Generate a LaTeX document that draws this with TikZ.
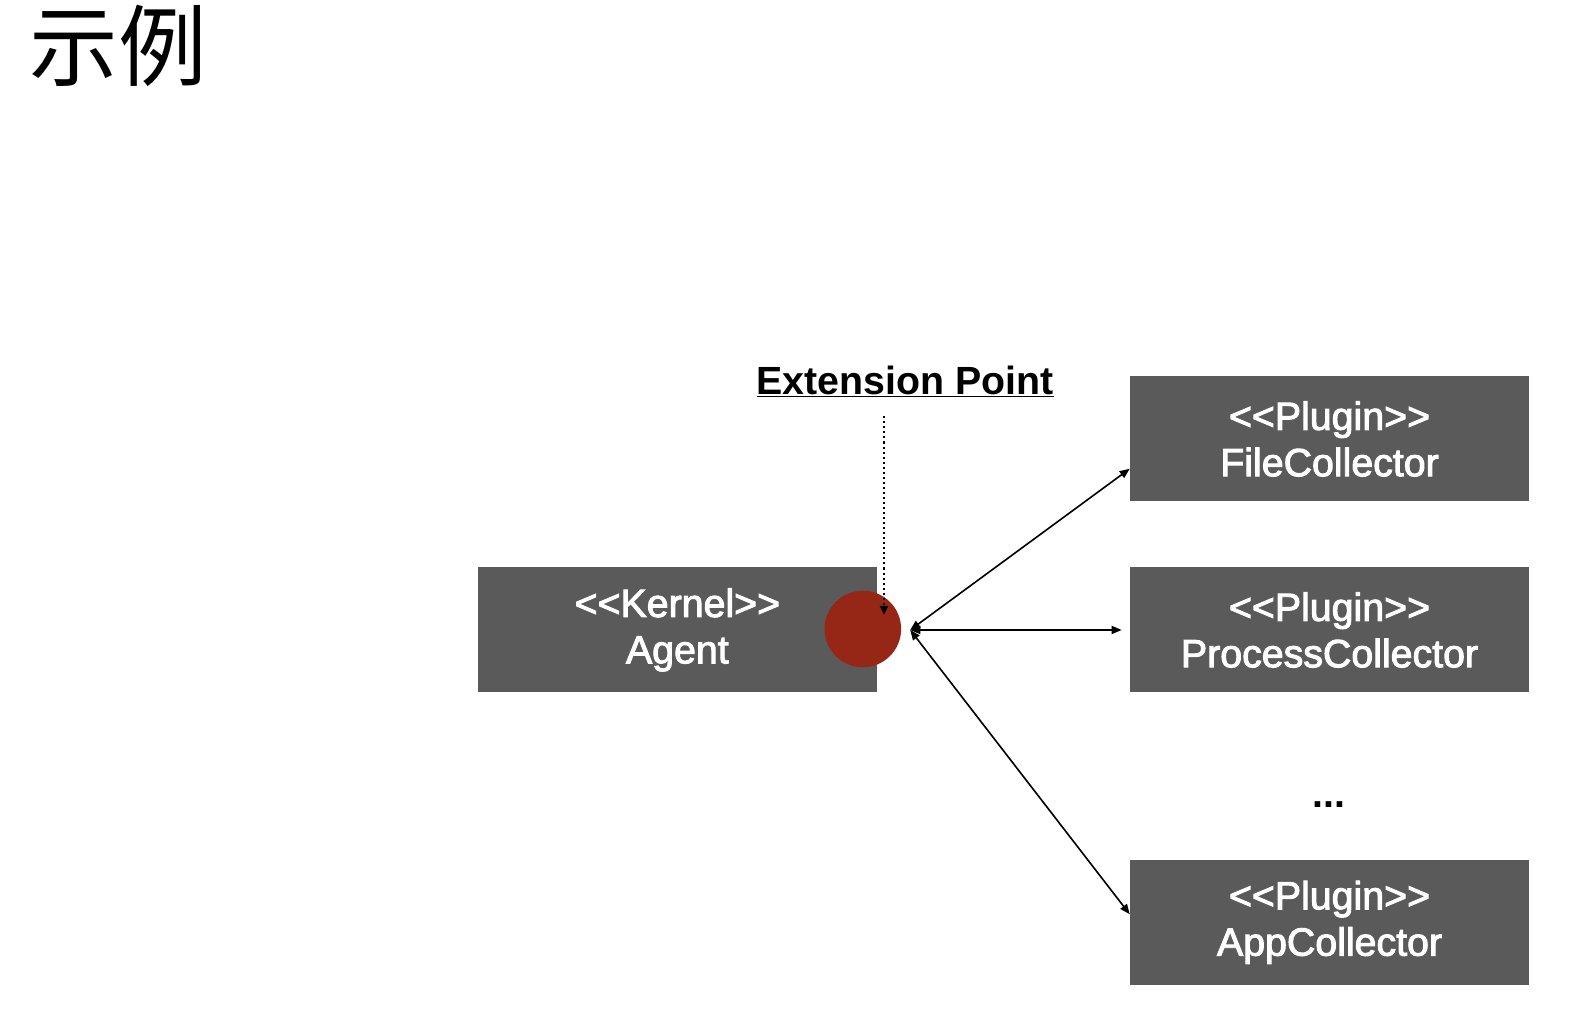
\documentclass[tikz,border=0pt]{standalone}
\usepackage{fontspec}
\setmainfont{Liberation Sans}
\newfontfamily\boxfont[FakeBold=2.5]{Liberation Sans}
\newfontfamily\cjk{Noto Sans CJK SC}
\usetikzlibrary{arrows.meta}
\definecolor{boxgray}{RGB}{90,90,90}
\definecolor{extred}{RGB}{150,38,22}
\tikzset{
  compbox/.style={draw=none,fill=boxgray,text=white,minimum width=396pt,minimum height=124pt,
    align=center,font=\boxfont\fontsize{39}{46}\selectfont,inner sep=0pt},
  link/.style={line width=1.6pt,{Triangle[length=10pt,width=8pt]}-{Triangle[length=10pt,width=8pt]}}
}
\newcommand{\stereo}[1]{<{}<#1>{}>}
\begin{document}
\begin{tikzpicture}[x=1pt,y=1pt,yscale=-1,xscale=1]
\useasboundingbox (0,0) rectangle (1567.5,1008);

% Title
\node (title) [anchor=north west,inner sep=0pt,font=\cjk\fontsize{88}{88}\selectfont] at (29,5) {示例};

% Kernel
\node (agent) [compbox] at (672,625) {\stereo{Kernel}\\Agent};
% Plugins
\node (file) [compbox] at (1319,435.5) {\stereo{Plugin}\\FileCollector};
\node (process) [compbox] at (1319,625) {\stereo{Plugin}\\ProcessCollector};
\node (app) [compbox] at (1319,915) {\stereo{Plugin}\\AppCollector};
\node (dots) [font=\fontsize{39}{46}\selectfont\bfseries] at (1318,798) {...};

% Extension point
\node (ext) [circle,fill=extred,minimum size=76pt,inner sep=0pt] at (856,624) {};
\coordinate (hub) at (903,625);
\node (extlabel) [font=\fontsize{39}{46}\selectfont\bfseries,inner sep=0pt] at (898,378) {\underline{Extension Point}};
\draw [line width=2.2pt,dash pattern=on 2pt off 3pt,-{Triangle[length=9pt,width=8pt]}] (877,413) -- (877,610);

% Connectors
\draw [link] (hub) -- (file.west |- 0,465) ;
\draw [link] (hub) -- ([xshift=-8pt]process.west) ;
\draw [link] (hub) -- (app.west |- 0,907) ;

\end{tikzpicture}
\end{document}
